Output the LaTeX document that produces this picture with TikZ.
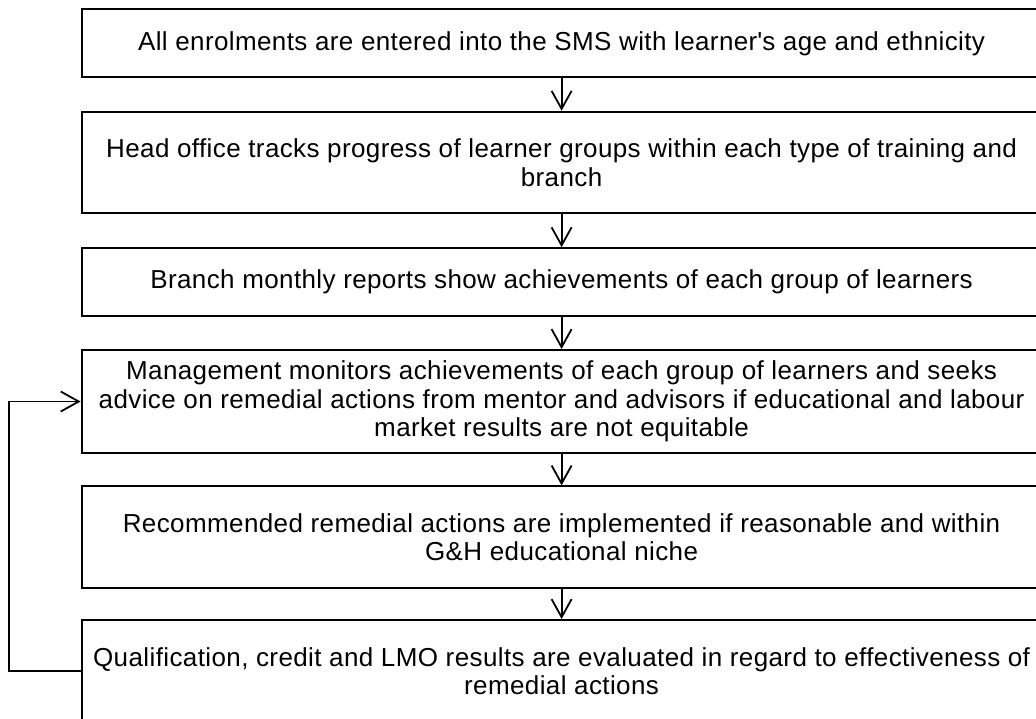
\documentclass[tikz,border=0pt]{standalone}
\usepackage{fontspec}
\setmainfont[LetterSpace=1.5]{Liberation Sans}
\usetikzlibrary{arrows.meta}
\begin{document}
\begin{tikzpicture}[x=1pt,y=-1pt,
  stagebox/.style={draw=black, line width=2pt, minimum width=960pt,
    inner sep=0pt, align=center, anchor=center,
    font=\fontsize{26}{28.5}\selectfont},
  flow/.style={line width=1.8pt,
    -{Straight Barb[length=18pt, width=20pt, line width=1.8pt]}}]
\useasboundingbox (0,0) rectangle (1036,718);
\clip (0,0) rectangle (1036,718);

% process stages, top to bottom
\node[stagebox, minimum height=68pt] (s1) at (561.6,43.3)
  {All enrolments are entered into the SMS with learner\textquotesingle s age and ethnicity};
\node[stagebox, minimum height=101.6pt] (s2) at (561.6,162.5)
  {Head office tracks progress of learner groups within each type of training and\\branch};
\node[stagebox, minimum height=68pt] (s3) at (561.6,282.2)
  {Branch monthly reports show achievements of each group of learners};
\node[stagebox, minimum height=103pt] (s4) at (561.6,401.5)
  {Management monitors achievements of each group of learners and seeks\\advice on remedial actions from mentor and advisors if educational and labour\\market results are not equitable};
\node[stagebox, minimum height=101.7pt] (s5) at (561.6,537.2)
  {Recommended remedial actions are implemented if reasonable and within\\G\&H educational niche};
\node[stagebox, minimum height=102pt] (s6) at (561.6,671)
  {Qualification, credit and LMO results are evaluated in regard to effectiveness of\\remedial actions};

% forward flow
\draw[flow] (s1.south) -- (s2.north);
\draw[flow] (s2.south) -- (s3.north);
\draw[flow] (s3.south) -- (s4.north);
\draw[flow] (s4.south) -- (s5.north);
\draw[flow] (s5.south) -- (s6.north);

% feedback loop from evaluation back to management review
\draw[flow] (s6.west) -- ++(-71.6,0) |- (s4.west);
\end{tikzpicture}
\end{document}
